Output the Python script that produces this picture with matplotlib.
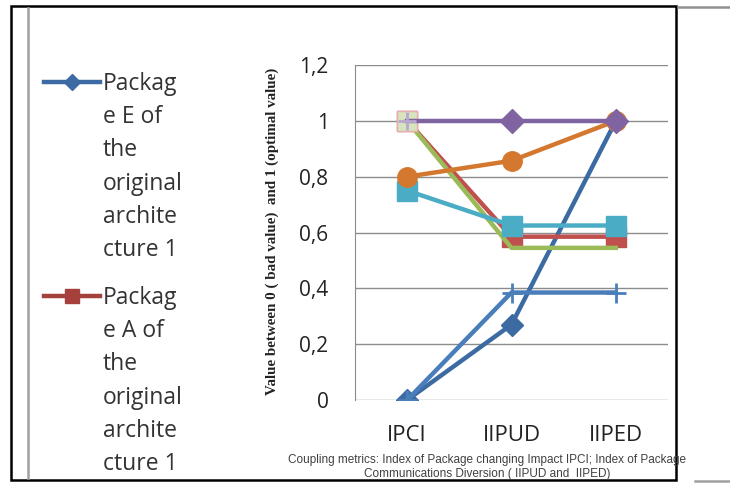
import matplotlib.pyplot as plt
from matplotlib.lines import Line2D

# metrics on the x axis
categories = ['IPCI', 'IIPUD', 'IIPED']
ytick_labels = ['0', '0,2', '0,4', '0,6', '0,8', '1', '1,2']

# series values
pkg_e = [0.0, 0.27, 1.0]
pkg_a = [1.0, 0.585, 0.585]
pkg_green = [1.0, 0.545, 0.545]
pkg_purple = [1.0, 1.0, 1.0]
pkg_cyan = [0.75, 0.625, 0.625]
pkg_orange = [0.80, 0.857, 1.0]
pkg_plus = [0.0, 0.385, 0.385]

name_e = 'Packag\ne E of\nthe\noriginal\narchite\ncture 1'
name_a = 'Packag\ne A of\nthe\noriginal\narchite\ncture 1'

W, H = 730, 483
fig = plt.figure(figsize=(7.3, 4.83), dpi=100)
fig.patch.set_facecolor('white')

def fx(px):
    return px / W

def fy(py):
    return 1 - py / H

ax = fig.add_axes([fx(355), fy(400), fx(668) - fx(355), fy(65) - fy(400)])
x = list(range(len(categories)))

lw = 3.2
ax.plot(x, pkg_e, color='#3C6AA2', lw=lw, marker='D', ms=11, zorder=3)
ax.plot(x, pkg_a, color='#C0504D', lw=lw, marker='s', ms=14, zorder=3)
ax.plot(x, pkg_green, color='#9BBB59', lw=lw, marker='s', ms=14,
        mfc='#D7E4BD', mec='#E6B0AE', markevery=[0], zorder=3)
ax.plot(x, pkg_cyan, color='#4BACC6', lw=lw, marker='s', ms=14, zorder=3)
ax.plot(x, pkg_orange, color='#D5782F', lw=lw, marker='o', ms=14, zorder=3)
ax.plot(x, pkg_purple, color='#8064A2', lw=lw, marker='D', ms=12,
        markevery=[1, 2], zorder=3)
ax.plot([0], pkg_purple[:1], ls='none', marker='+', ms=13, mew=2,
        color='#B9A7D0', zorder=4)
ax.plot(x, pkg_plus, color='#4A7EBB', lw=lw, marker='+', ms=15, mew=2,
        zorder=3)

ax.set_xlim(-0.5, 2.5)
ax.set_ylim(0, 1.2)
ax.set_yticks([0, 0.2, 0.4, 0.6, 0.8, 1.0, 1.2])
ax.set_yticklabels(ytick_labels, fontsize=15, color='#222222',
                   family='Open Sans')
ax.set_xticks(x)
ax.set_xticklabels(categories, fontsize=16, color='#222222',
                   family='Open Sans')
ax.tick_params(length=0)
ax.tick_params(axis='y', pad=19)
ax.tick_params(axis='x', pad=18)
ax.grid(axis='y', color='#8C8C8C', lw=1)
ax.set_axisbelow(True)
for side in ['top', 'right', 'bottom']:
    ax.spines[side].set_visible(False)
ax.spines['left'].set_color('#8C8C8C')

fig.text(fx(272), fy(231), 'Value between 0 ( bad value)  and 1 (optimal value)',
         rotation=90, ha='center', va='center', fontsize=10.8,
         fontweight='bold', family='Liberation Serif', color='#222222')

fig.text(fx(487), fy(467),
         'Coupling metrics: Index of Package changing Impact IPCI; Index of Package\n'
         'Communications Diversion ( IIPUD and  IIPED)',
         ha='center', va='center', fontsize=8.5, color='#404040',
         family='Liberation Sans', linespacing=1.2)

# legend, drawn by hand (only two entries are visible)
for yline, color, mk, ms, label in [(82, '#3C6AA2', 'D', 8, name_e),
                                    (296, '#A5403D', 's', 10, name_a)]:
    fig.add_artist(Line2D([fx(44), fx(100)], [fy(yline), fy(yline)],
                          color=color, lw=3.2, transform=fig.transFigure))
    fig.add_artist(Line2D([fx(72)], [fy(yline)], color=color, marker=mk, ms=ms,
                          transform=fig.transFigure))
    fig.text(fx(103), fy(yline - 10), label, ha='left', va='top',
             fontsize=16.5, color='#333333', family='Open Sans',
             linespacing=1.51)

# page frame
fig.add_artist(plt.Rectangle((fx(11), fy(480)), fx(676) - fx(11),
                             fy(6) - fy(480), fill=False, ec='black', lw=1.8,
                             transform=fig.transFigure))
fig.add_artist(Line2D([fx(28), fx(28)], [fy(8), fy(478)], color='#A0A0A0',
                      lw=1.8, transform=fig.transFigure))
fig.add_artist(Line2D([fx(678), fx(730)], [fy(7), fy(7)], color='#909090',
                      lw=1.8, transform=fig.transFigure))
fig.add_artist(Line2D([fx(695), fx(730)], [fy(481), fy(481)], color='#A0A0A0',
                      lw=1.8, transform=fig.transFigure))

fig.savefig('out.png', dpi=100)
